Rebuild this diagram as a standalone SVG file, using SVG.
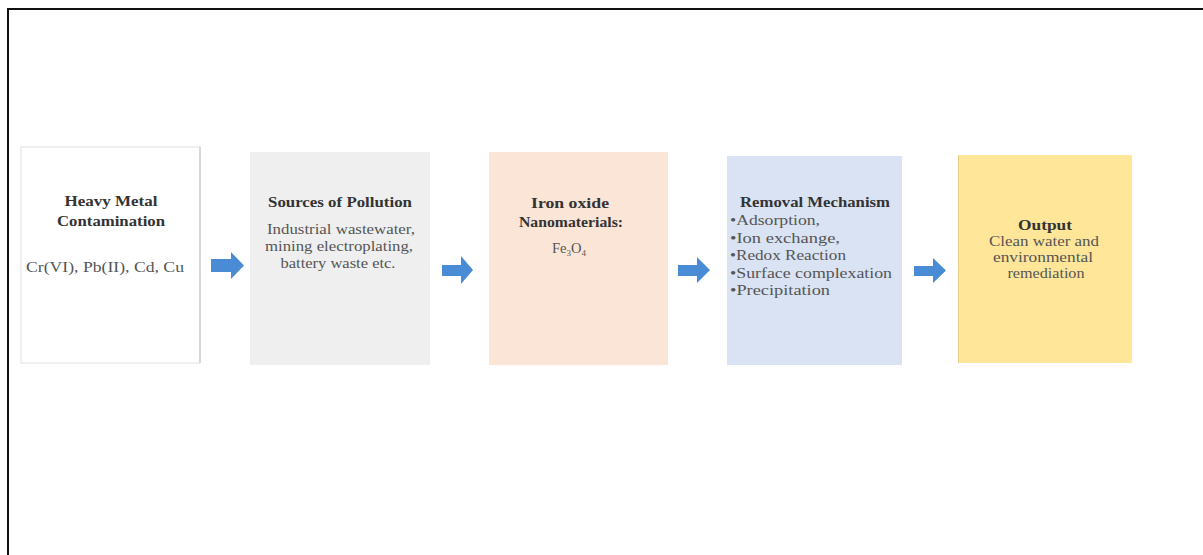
<svg xmlns="http://www.w3.org/2000/svg" width="1203" height="555" viewBox="0 0 1203 555">
<defs>
<style>
.box{stroke:none}
.t{font-family:"Liberation Serif","Times New Roman",serif;font-size:14.5px;fill:#555}
.b{font-family:"Liberation Serif","Times New Roman",serif;font-size:15px;font-weight:bold;fill:#333}
.o{font-family:"Liberation Serif","Times New Roman",serif;font-size:14px;fill:#555}
.arrow{fill:#4a8bd6}
</style>
</defs>
<rect x="0" y="0" width="1203" height="555" fill="#ffffff"/>
<path d="M8,555 V9 H1203" fill="none" stroke="#111" stroke-width="2"/>
<g id="node-heavy-metal">
<rect x="21" y="147" width="179" height="216" fill="#ffffff" stroke="#e2e2e2" stroke-width="1"/>
<line x1="200" y1="147" x2="200" y2="363" stroke="#cfcfcf" stroke-width="1.5"/>
<text class="b" x="111" y="206" text-anchor="middle" textLength="93" lengthAdjust="spacingAndGlyphs">Heavy Metal</text>
<text class="b" x="111" y="226" text-anchor="middle" textLength="108" lengthAdjust="spacingAndGlyphs">Contamination</text>
<text class="t" x="105" y="272" text-anchor="middle" textLength="158" lengthAdjust="spacingAndGlyphs">Cr(VI), Pb(II), Cd, Cu</text>
</g>
<g id="node-sources">
<rect class="box" x="250" y="152" width="180" height="213" fill="#efefef"/>
<text class="b" x="340" y="207" text-anchor="middle" textLength="144" lengthAdjust="spacingAndGlyphs">Sources of Pollution</text>
<text class="t" x="341" y="234" text-anchor="middle" textLength="148" lengthAdjust="spacingAndGlyphs">Industrial wastewater,</text>
<text class="t" x="339" y="251" text-anchor="middle" textLength="148" lengthAdjust="spacingAndGlyphs">mining electroplating,</text>
<text class="t" x="338" y="268" text-anchor="middle" textLength="115" lengthAdjust="spacingAndGlyphs">battery waste etc.</text>
</g>
<g id="node-iron-oxide">
<rect class="box" x="489" y="152" width="179" height="213" fill="#fbe5d6"/>
<text class="b" x="570" y="208" text-anchor="middle" textLength="78" lengthAdjust="spacingAndGlyphs">Iron oxide</text>
<text class="b" x="571" y="227" text-anchor="middle" textLength="104" lengthAdjust="spacingAndGlyphs">Nanomaterials:</text>
<text class="t" x="569" y="253" text-anchor="middle">Fe<tspan font-size="9" dy="3">3</tspan><tspan dy="-3">O</tspan><tspan font-size="9" dy="3">4</tspan></text>
</g>
<g id="node-removal">
<rect class="box" x="727" y="156" width="175" height="209" fill="#dae3f3"/>
<text class="b" x="815" y="207" text-anchor="middle" textLength="150" lengthAdjust="spacingAndGlyphs">Removal Mechanism</text>
<text class="t" x="730" y="225" textLength="90" lengthAdjust="spacingAndGlyphs">•Adsorption,</text>
<text class="t" x="730" y="242.5" textLength="110" lengthAdjust="spacingAndGlyphs">•Ion exchange,</text>
<text class="t" x="730" y="260" textLength="116" lengthAdjust="spacingAndGlyphs">•Redox Reaction</text>
<text class="t" x="730" y="277.5" textLength="162" lengthAdjust="spacingAndGlyphs">•Surface complexation</text>
<text class="t" x="730" y="295" textLength="100" lengthAdjust="spacingAndGlyphs">•Precipitation</text>
</g>
<g id="node-output">
<rect class="box" x="958" y="155" width="174" height="208" fill="#ffe699"/>
<line x1="958.5" y1="155" x2="958.5" y2="363" stroke="#e8cf86" stroke-width="1"/>
<text class="b" x="1045" y="230" text-anchor="middle" textLength="54" lengthAdjust="spacingAndGlyphs">Output</text>
<text class="o" x="1044" y="246" text-anchor="middle" textLength="110" lengthAdjust="spacingAndGlyphs">Clean water and</text>
<text class="o" x="1043" y="262" text-anchor="middle" textLength="100" lengthAdjust="spacingAndGlyphs">environmental</text>
<text class="o" x="1046" y="278" text-anchor="middle" textLength="77" lengthAdjust="spacingAndGlyphs">remediation</text>
</g>
<g id="connectors">
<path class="arrow" d="M211,259 H231 V252 L244,265.5 L231,279 V272 H211 Z"/>
<path class="arrow" d="M442,265 H461 V256 L473,270 L461,284 V276 H442 Z"/>
<path class="arrow" d="M678,265 H697 V257 L710,270 L697,283 V276 H678 Z"/>
<path class="arrow" d="M914,266 H933 V258 L946,270.5 L933,283 V276 H914 Z"/>
</g>
</svg>
